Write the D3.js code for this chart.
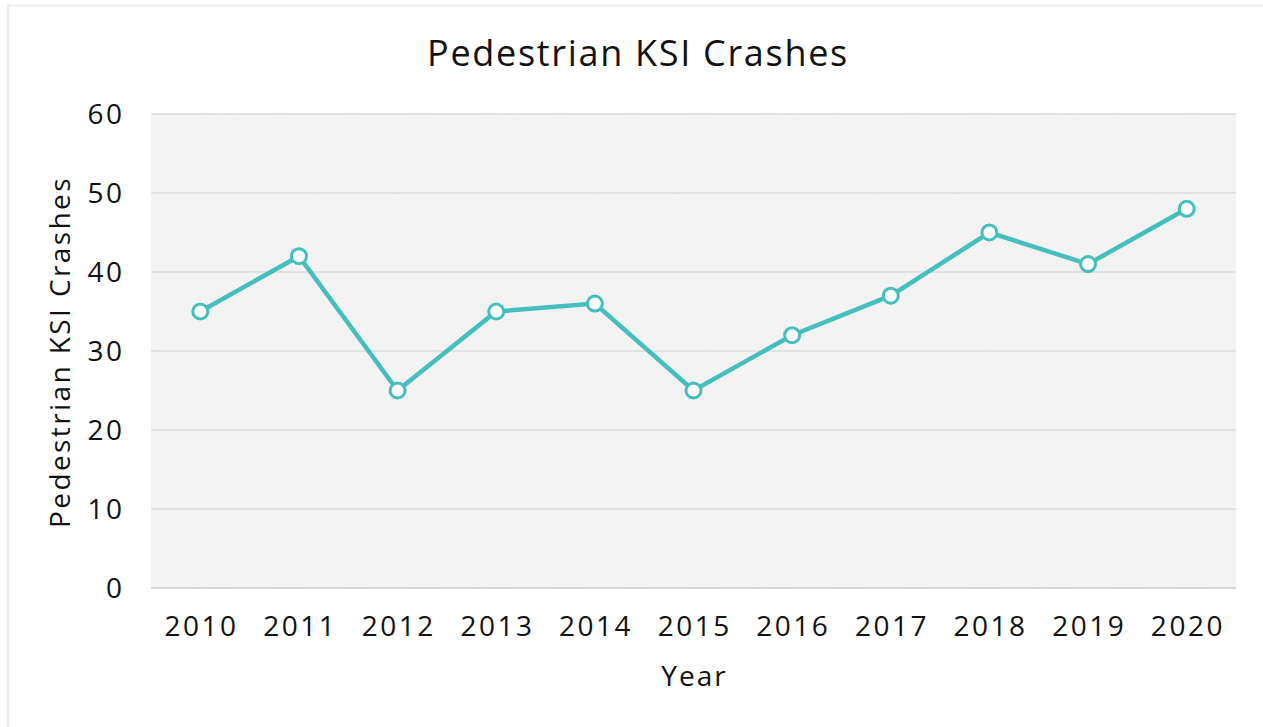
<!DOCTYPE html>
<html><head><meta charset="utf-8">
<script src="https://cdn.jsdelivr.net/npm/d3@7"></script>
<style>html,body{margin:0;padding:0;background:#fff;}svg{display:block;font-family:"Open Sans",sans-serif;}</style>
</head><body>
<svg id="c" width="1263" height="727"></svg>
<script>
const years = ["2010","2011","2012","2013","2014","2015","2016","2017","2018","2019","2020"];
const crashes = [35, 42, 25, 35, 36, 25, 32, 37, 45, 41, 48];
const yTicks = [0, 10, 20, 30, 40, 50, 60];
const title = "Pedestrian KSI Crashes";
const xTitle = "Year";
const yTitle = "Pedestrian KSI Crashes";

const svg = d3.select("#c");
const m = {left:151, right:1236, top:114, bottom:588};

// frame
svg.append("path").attr("d","M8,727 L8,5.5 L1263,5.5").attr("fill","none").attr("stroke","#ececec").attr("stroke-width",2);

const defs = svg.append("defs");
const pat = defs.append("pattern").attr("id","hatch").attr("width",3).attr("height",3)
  .attr("patternUnits","userSpaceOnUse").attr("patternTransform","rotate(45)");
pat.append("rect").attr("width",3).attr("height",3).attr("fill","#f4f4f4");
pat.append("line").attr("x1",0).attr("y1",0).attr("x2",0).attr("y2",3).attr("stroke","#ececec").attr("stroke-width",1);

const x = d3.scaleBand().domain(years).range([m.left, m.right]).paddingInner(0).paddingOuter(0);
const y = d3.scaleLinear().domain([0,60]).range([m.bottom, m.top]);

svg.append("rect").attr("x",m.left).attr("y",m.top).attr("width",m.right-m.left).attr("height",m.bottom-m.top).attr("fill","url(#hatch)");

// gridlines
svg.append("g").selectAll("line").data(yTicks).join("line")
  .attr("x1",m.left).attr("x2",m.right).attr("y1",d=>y(d)).attr("y2",d=>y(d))
  .attr("stroke",d=>d===0?"#d6d6d6":"#e2e2e2").attr("stroke-width",2);

// y axis labels
const yAxis = d3.axisLeft(y).tickValues(yTicks).tickSize(0).tickPadding(0);
const gy = svg.append("g").attr("transform","translate(124.5,0)").call(yAxis);
gy.select(".domain").remove();
gy.selectAll("text").attr("font-size",28).attr("letter-spacing",2.5).attr("fill","#111").attr("font-family","'Open Sans',sans-serif").attr("dy","0.35em");

// x axis labels
const xAxis = d3.axisBottom(x).tickSize(0).tickPadding(0);
const gx = svg.append("g").attr("transform","translate(1.2,616)").call(xAxis);
gx.select(".domain").remove();
gx.selectAll("text").attr("font-size",28).attr("letter-spacing",2.5).attr("fill","#111").attr("font-family","'Open Sans',sans-serif").attr("dy","0.71em").attr("y",0);

// line
const cx = d => x(d) + x.bandwidth()/2;
const line = d3.line().x((d,i)=>cx(years[i])).y(d=>y(d));
svg.append("path").datum(crashes).attr("d",line).attr("fill","none").attr("stroke","#45bfbc").attr("stroke-width",4.5);
svg.append("g").selectAll("circle").data(crashes).join("circle")
  .attr("cx",(d,i)=>cx(years[i])).attr("cy",d=>y(d)).attr("r",7.5)
  .attr("fill","#fff").attr("stroke","#45bfbc").attr("stroke-width",3);

// titles
svg.append("text").attr("x",638).attr("y",66).attr("text-anchor","middle").attr("font-size",36).attr("letter-spacing",1.7).attr("fill","#111").text(title);
svg.append("text").attr("x",(m.left+m.right)/2+1).attr("y",686).attr("text-anchor","middle").attr("font-size",28).attr("letter-spacing",2).attr("fill","#111").text(xTitle);
svg.append("text").attr("transform","translate(70,352) rotate(-90)").attr("text-anchor","middle").attr("font-size",28).attr("letter-spacing",2.4).attr("fill","#111").text(yTitle);
</script>
</body></html>
